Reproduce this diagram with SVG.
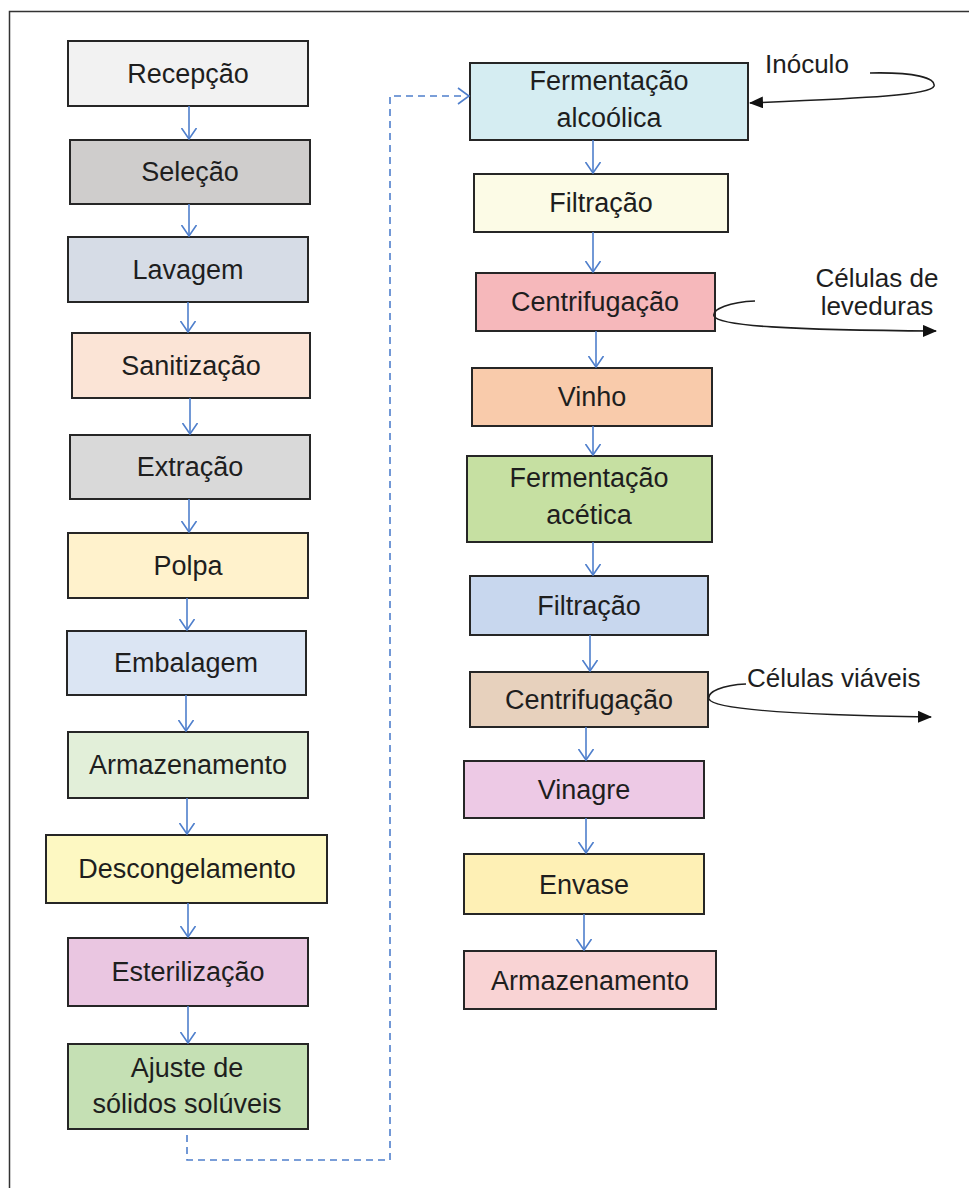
<svg xmlns="http://www.w3.org/2000/svg" width="969" height="1188" viewBox="0 0 969 1188">
  <style>
    .box { stroke: #262626; stroke-width: 2; }
    .lbl { font-family: "Liberation Sans", Arial, sans-serif; font-size: 27px; fill: #1e1e1e; text-anchor: middle; }
    .side { font-family: "Liberation Sans", Arial, sans-serif; font-size: 26px; fill: #1e1e1e; }
    .flow { stroke: #4f7fcc; stroke-width: 1.6; fill: none; marker-end: url(#vhead); }
    .dash { stroke: #4f7fcc; stroke-width: 1.6; fill: none; stroke-dasharray: 7 5; }
    .curve { stroke: #1e1e1e; stroke-width: 1.6; fill: none; marker-end: url(#solid); }
  </style>
  <defs>
    <marker id="vhead" viewBox="0 0 12 16" refX="11.5" refY="8" markerWidth="12" markerHeight="16" markerUnits="userSpaceOnUse" orient="auto">
      <path d="M0.5,0.5 L11.5,8 L0.5,15.5" fill="none" stroke="#4f7fcc" stroke-width="1.6"/>
    </marker>
    <marker id="solid" viewBox="0 0 14 12" refX="13" refY="6" markerWidth="14" markerHeight="12" markerUnits="userSpaceOnUse" orient="auto">
      <path d="M0,0 L14,6 L0,12 Z" fill="#111"/>
    </marker>
  </defs>

  <rect width="969" height="1188" fill="#ffffff"/>
  <!-- outer frame (left and top edges) -->
  <path d="M9.5,1188 V11.5 H969" fill="none" stroke="#333" stroke-width="1.5"/>

  <!-- left column -->
  <g id="recepcao"><rect class="box" x="68" y="41" width="240" height="65" fill="#f2f2f2"/><text class="lbl" x="188" y="83">Recepção</text></g>
  <g id="selecao"><rect class="box" x="70" y="140" width="240" height="64" fill="#cfcdcc"/><text class="lbl" x="190" y="181">Seleção</text></g>
  <g id="lavagem"><rect class="box" x="68" y="237" width="240" height="65" fill="#d6dce6"/><text class="lbl" x="188" y="279">Lavagem</text></g>
  <g id="sanitizacao"><rect class="box" x="72" y="333" width="238" height="65" fill="#fbe4d6"/><text class="lbl" x="191" y="375">Sanitização</text></g>
  <g id="extracao"><rect class="box" x="70" y="435" width="240" height="64" fill="#d9d9d9"/><text class="lbl" x="190" y="476">Extração</text></g>
  <g id="polpa"><rect class="box" x="68" y="533" width="240" height="65" fill="#fff2cc"/><text class="lbl" x="188" y="575">Polpa</text></g>
  <g id="embalagem"><rect class="box" x="67" y="631" width="239" height="64" fill="#dbe5f3"/><text class="lbl" x="186" y="672">Embalagem</text></g>
  <g id="armazenamento1"><rect class="box" x="68" y="732" width="240" height="66" fill="#e2efd9"/><text class="lbl" x="188" y="774">Armazenamento</text></g>
  <g id="descongelamento"><rect class="box" x="46" y="835" width="281" height="68" fill="#fdf8c2"/><text class="lbl" x="187" y="878">Descongelamento</text></g>
  <g id="esterilizacao"><rect class="box" x="68" y="938" width="240" height="68" fill="#eac6e1"/><text class="lbl" x="188" y="981">Esterilização</text></g>
  <g id="ajuste"><rect class="box" x="68" y="1044" width="240" height="85" fill="#c5e0b4"/><text class="lbl" x="187" y="1077">Ajuste de</text><text class="lbl" x="187" y="1113">sólidos solúveis</text></g>

  <!-- right column -->
  <g id="fermentacao-alcoolica"><rect class="box" x="470" y="63" width="278" height="77" fill="#d5edf2"/><text class="lbl" x="609" y="90">Fermentação</text><text class="lbl" x="609" y="127">alcoólica</text></g>
  <g id="filtracao1"><rect class="box" x="474" y="174" width="254" height="58" fill="#fcfbe6"/><text class="lbl" x="601" y="212">Filtração</text></g>
  <g id="centrifugacao1"><rect class="box" x="476" y="273" width="239" height="58" fill="#f6b8bb"/><text class="lbl" x="595" y="311">Centrifugação</text></g>
  <g id="vinho"><rect class="box" x="472" y="368" width="240" height="58" fill="#f9cbab"/><text class="lbl" x="592" y="406">Vinho</text></g>
  <g id="fermentacao-acetica"><rect class="box" x="467" y="456" width="245" height="86" fill="#c6e0a2"/><text class="lbl" x="589" y="487">Fermentação</text><text class="lbl" x="589" y="524">acética</text></g>
  <g id="filtracao2"><rect class="box" x="470" y="576" width="238" height="59" fill="#c8d7ee"/><text class="lbl" x="589" y="615">Filtração</text></g>
  <g id="centrifugacao2"><rect class="box" x="470" y="672" width="238" height="55" fill="#e7d1bd"/><text class="lbl" x="589" y="709">Centrifugação</text></g>
  <g id="vinagre"><rect class="box" x="464" y="761" width="240" height="57" fill="#edc9e5"/><text class="lbl" x="584" y="799">Vinagre</text></g>
  <g id="envase"><rect class="box" x="464" y="854" width="240" height="60" fill="#fef0b5"/><text class="lbl" x="584" y="894">Envase</text></g>
  <g id="armazenamento2"><rect class="box" x="464" y="951" width="252" height="58" fill="#f9d3d4"/><text class="lbl" x="590" y="990">Armazenamento</text></g>

  <!-- side streams -->
  <g id="inoculo"><text class="side" x="765" y="73">Inóculo</text></g>
  <g id="celulas-leveduras"><text class="side" x="877" y="287" text-anchor="middle">Células de</text><text class="side" x="877" y="315" text-anchor="middle">leveduras</text></g>
  <g id="celulas-viaveis"><text class="side" x="747" y="687">Células viáveis</text></g>

  <!-- connectors -->
  <g id="connectors">
    <path class="flow" d="M189,106 V139"/>
    <path class="flow" d="M189,204 V236"/>
    <path class="flow" d="M188,302 V332"/>
    <path class="flow" d="M190,398 V434"/>
    <path class="flow" d="M189,499 V532"/>
    <path class="flow" d="M187,598 V630"/>
    <path class="flow" d="M186,695 V731"/>
    <path class="flow" d="M187,798 V834"/>
    <path class="flow" d="M188,903 V937"/>
    <path class="flow" d="M188,1006 V1043"/>

    <path class="dash" d="M187,1135 V1160 H390 V96 H466"/>
    <path d="M458,88 L469,96 L458,104" fill="none" stroke="#4f7fcc" stroke-width="1.6"/>

    <path class="flow" d="M593,140 V173"/>
    <path class="flow" d="M593,232 V272"/>
    <path class="flow" d="M596,331 V367"/>
    <path class="flow" d="M593,426 V455"/>
    <path class="flow" d="M593,542 V575"/>
    <path class="flow" d="M590,635 V671"/>
    <path class="flow" d="M586,727 V760"/>
    <path class="flow" d="M586,818 V853"/>
    <path class="flow" d="M584,914 V950"/>

    <path class="curve" d="M870,73 C915,72 936,78 934,86 C931,95 870,98 750,103"/>
    <path class="curve" d="M755,301 C730,302 712,309 714,316 C718,326 790,330 936,331"/>
    <path class="curve" d="M746,684 C722,685 707,692 709,699 C713,710 800,715 931,717"/>
  </g>
</svg>
